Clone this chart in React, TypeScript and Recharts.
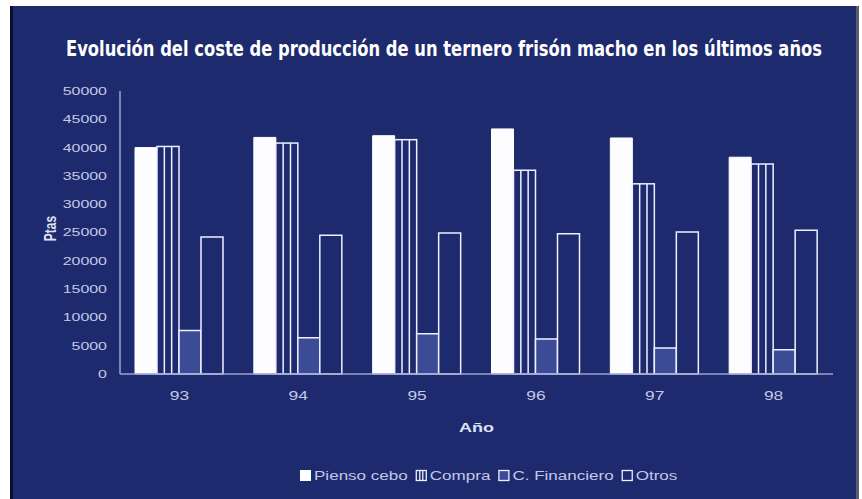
import React from 'react';
import { BarChart, Bar, XAxis, YAxis, Legend } from 'recharts';

const years = ['93', '94', '95', '96', '97', '98'];
const piensoCebo = [40000, 41800, 42100, 43300, 41700, 38300];
const compra = [40200, 40800, 41400, 36000, 33600, 37100];
const cFinanciero = [7700, 6400, 7100, 6200, 4600, 4300];
const otros = [24200, 24500, 24900, 24800, 25100, 25400];
const yTicks = [0, 5000, 10000, 15000, 20000, 25000, 30000, 35000, 40000, 45000, 50000];
const seriesKeys = ['pienso', 'compra', 'fin', 'otros'];
const seriesNames = ['Pienso cebo', 'Compra', 'C. Financiero', 'Otros'];
const title = 'Evolución del coste de producción de un ternero frisón macho en los últimos años';
const xTitle = 'Año';
const yTitle = 'Ptas';

const data = years.map((y, i) => ({
  year: y,
  pienso: piensoCebo[i],
  compra: compra[i],
  fin: cFinanciero[i],
  otros: otros[i],
}));

const BG = '#1d2a6e';
const LINE = '#eef0ff';
const FIN_FILL = '#3b4b96';
const TEXT = '#c3c9e6';
const FONT = '"Liberation Sans", Arial, sans-serif';
const TITLE_FONT = '"DejaVu Sans Condensed", "Liberation Sans Narrow", "Liberation Sans", sans-serif';

let ctx: CanvasRenderingContext2D | null = null;
function measure(s: string, font: string): number {
  if (!ctx && typeof document !== 'undefined') {
    ctx = document.createElement('canvas').getContext('2d');
  }
  if (!ctx) return s.length * 6;
  ctx.font = font;
  return ctx.measureText(s).width;
}

function SText(props: any) {
  const { x, y, text, size = 11, weight = 'normal', stretch = 1.42, anchor = 'start', fill = TEXT, family = FONT, dy, transform, length } = props;
  const w = length ?? measure(text, `${weight} ${size}px ${family}`) * stretch;
  return (
    <text
      x={x}
      y={y}
      dy={dy}
      transform={transform}
      fontSize={size}
      fontFamily={family}
      fontWeight={weight}
      textAnchor={anchor}
      textLength={w}
      lengthAdjust="spacingAndGlyphs"
      fill={fill}
    >
      {text}
    </text>
  );
}

const YTick = (p: any) => (
  <SText x={p.x} y={p.y} dy="0.36em" text={String(p.payload.value)} size={11} anchor="end" stretch={1.45} />
);
const XTick = (p: any) => (
  <SText x={p.x} y={p.y} dy="0.72em" text={String(p.payload.value)} size={12} anchor="middle" stretch={1.45} />
);

const CompraShape = (p: any) => {
  const { x, y, width, height } = p;
  if (!height || height <= 0) return null;
  return (
    <g>
      <rect x={x} y={y} width={width} height={height} fill={BG} stroke={LINE} strokeWidth={1.5} />
      <line x1={x + width / 3} x2={x + width / 3} y1={y} y2={y + height} stroke={LINE} strokeWidth={1.5} />
      <line x1={x + (2 * width) / 3} x2={x + (2 * width) / 3} y1={y} y2={y + height} stroke={LINE} strokeWidth={1.5} />
    </g>
  );
};

function LegendIcon({ k, x, y }: { k: string; x: number; y: number }) {
  const s = 11;
  if (k === 'pienso') return <rect x={x} y={y} width={s} height={s} fill="#ffffff" />;
  if (k === 'compra')
    return (
      <g>
        <rect x={x + 0.5} y={y + 0.5} width={s - 1} height={s - 1} fill={BG} stroke={LINE} strokeWidth={1.3} />
        <line x1={x + 4} x2={x + 4} y1={y} y2={y + s} stroke={LINE} strokeWidth={1.3} />
        <line x1={x + 7} x2={x + 7} y1={y} y2={y + s} stroke={LINE} strokeWidth={1.3} />
      </g>
    );
  if (k === 'fin')
    return <rect x={x + 0.5} y={y + 0.5} width={s - 1} height={s - 1} fill={FIN_FILL} stroke={LINE} strokeWidth={1.3} />;
  return <rect x={x + 0.5} y={y + 0.5} width={s - 1} height={s - 1} fill={BG} stroke={LINE} strokeWidth={1.3} />;
}

const LegendContent = () => {
  const size = 12;
  const stretch = 1.42;
  let cx = 300;
  const items = seriesKeys.map((k, i) => {
    const w = measure(seriesNames[i], `${size}px ${FONT}`) * stretch;
    const el = (
      <g key={k}>
        <LegendIcon k={k} x={cx} y={3} />
        <SText x={cx + 14} y={13} text={seriesNames[i]} size={size} length={w} fill={TEXT} />
      </g>
    );
    cx += 14 + w + 8;
    return el;
  });
  return (
    <svg width={862} height={20} style={{ display: 'block' }}>
      {items}
    </svg>
  );
};

function Title() {
  const target = 756;
  const nat = measure(title, `bold 20px ${TITLE_FONT}`);
  const f = nat > 0 ? (20 * target) / nat : 18;
  const sy = 21 / f;
  return (
    <svg width={862} height={80} style={{ position: 'absolute', left: 0, top: 0 }}>
      <g transform={`translate(444 56) scale(1 ${sy})`}>
        <text
          x={0}
          y={0}
          fontSize={f}
          fontFamily={TITLE_FONT}
          fontWeight="bold"
          textAnchor="middle"
          textLength={target}
          lengthAdjust="spacingAndGlyphs"
          fill="#ffffff"
        >
          {title}
        </text>
      </g>
    </svg>
  );
}

export default function App() {
  return (
    <div style={{ position: 'absolute', left: 0, top: 0, width: 862, height: 499, background: '#ffffff', overflow: 'hidden' }}>
      <div
        style={{
          position: 'absolute',
          left: 10,
          top: 6,
          width: 843,
          height: 493,
          background: BG,
          borderLeft: '3px solid #0b0f2e',
          borderRight: '3px solid #5a5f6e',
        }}
      />
      <Title />
      <div style={{ position: 'absolute', left: 0, top: 0 }}>
        <BarChart
          width={862}
          height={499}
          data={data}
          margin={{ top: 91, right: 29, bottom: 65, left: 30 }}
          barCategoryGap={15}
          barGap={0}
        >
          <XAxis
            dataKey="year"
            height={60}
            tickLine={false}
            tickSize={0}
            tickMargin={17}
            axisLine={{ stroke: '#9aa3cf', strokeWidth: 1.5 }}
            tick={<XTick />}
            label={(p: any) => {
              const vb = p.viewBox || {};
              return (
                <SText
                  x={vb.x + vb.width / 2}
                  y={vb.y + 54}
                  dy="0.36em"
                  text={xTitle}
                  size={12}
                  weight="bold"
                  anchor="middle"
                  stretch={1.5}
                  fill="#dfe3f5"
                />
              );
            }}
          />
          <XAxis xAxisId="top" dataKey="year" orientation="top" height={0} tick={false} tickLine={false} axisLine={{ stroke: '#4c5c9e', strokeWidth: 1.2 }} />
          <YAxis
            width={90}
            domain={[0, 50000]}
            ticks={yTicks}
            interval={0}
            tickLine={false}
            tickSize={0}
            tickMargin={13}
            axisLine={{ stroke: '#9aa3cf', strokeWidth: 1.5 }}
            tick={<YTick />}
            label={(p: any) => {
              const vb = p.viewBox || {};
              const cx = vb.x + 20;
              const cy = vb.y + vb.height / 2 - 4;
              return (
                <g transform={`translate(${cx} ${cy}) rotate(-90) scale(1 1.4)`}>
                  <text
                    x={0}
                    y={0}
                    dy="0.36em"
                    fontSize={12}
                    fontWeight="bold"
                    fontFamily={FONT}
                    textAnchor="middle"
                    fill="#dfe3f5"
                  >
                    {yTitle}
                  </text>
                </g>
              );
            }}
          />
          <YAxis yAxisId="right" orientation="right" width={0} domain={[0, 50000]} tick={false} tickLine={false} axisLine={{ stroke: '#4c5c9e', strokeWidth: 1.2 }} />
          <Legend
            layout="horizontal"
            verticalAlign="middle"
            align="center"
            content={<LegendContent />}
            wrapperStyle={{ top: 467, left: 0, width: 862, height: 20 }}
          />
          <Bar dataKey="pienso" name={seriesNames[0]} fill="#fdfdff" stroke="#ffffff" strokeWidth={1} isAnimationActive={false} />
          <Bar dataKey="compra" name={seriesNames[1]} fill={BG} shape={<CompraShape />} isAnimationActive={false} />
          <Bar dataKey="fin" name={seriesNames[2]} fill={FIN_FILL} stroke={LINE} strokeWidth={1.5} isAnimationActive={false} />
          <Bar dataKey="otros" name={seriesNames[3]} fill={BG} stroke={LINE} strokeWidth={1.5} isAnimationActive={false} />
        </BarChart>
      </div>
    </div>
  );
}
